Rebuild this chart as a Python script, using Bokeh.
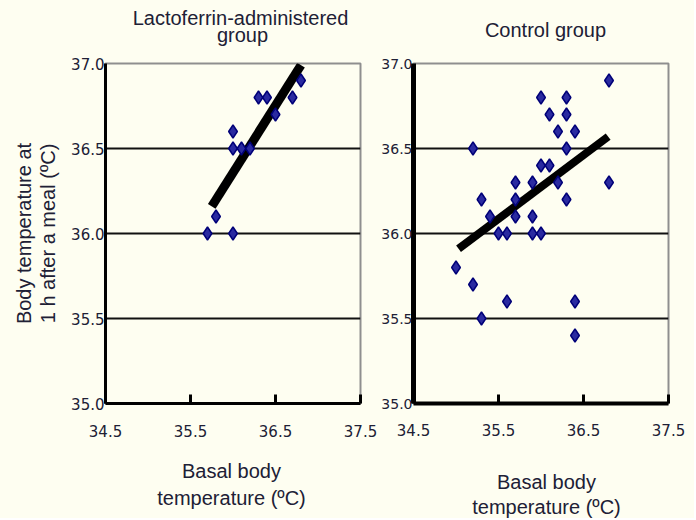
from bokeh.plotting import figure
from bokeh.layouts import row, column
from bokeh.models import Range1d, FixedTicker, PrintfTickFormatter
from bokeh.core.properties import value
from bokeh.embed import file_html
from bokeh.resources import INLINE

# ---- data ----
lf_x = [35.7, 36.0, 35.8, 36.0, 36.0, 36.1, 36.2, 36.3, 36.4, 36.5, 36.7, 36.8]
lf_y = [36.0, 36.0, 36.1, 36.5, 36.6, 36.5, 36.5, 36.8, 36.8, 36.7, 36.8, 36.9]
lf_fit_x = [35.75, 36.80]
lf_fit_y = [36.16, 36.99]

ct_x = [36.8, 36.0, 36.3, 36.1, 36.3, 36.2, 36.4, 35.2, 36.3, 36.0, 36.1, 36.8,
        35.7, 35.9, 36.2, 35.3, 35.7, 36.3, 35.4, 35.7, 35.9, 35.5, 35.6, 35.9,
        36.0, 35.0, 35.2, 35.6, 35.3, 36.4, 36.4]
ct_y = [36.9, 36.8, 36.8, 36.7, 36.7, 36.6, 36.6, 36.5, 36.5, 36.4, 36.4, 36.3,
        36.3, 36.3, 36.3, 36.2, 36.2, 36.2, 36.1, 36.1, 36.1, 36.0, 36.0, 36.0,
        36.0, 35.8, 35.7, 35.6, 35.5, 35.6, 35.4]
ct_fit_x = [35.03, 36.79]
ct_fit_y = [35.91, 36.57]

x_ticks = [34.5, 35.5, 36.5, 37.5]
y_ticks = [35.0, 35.5, 36.0, 36.5, 37.0]
grid_ticks = [35.5, 36.0, 36.5]

titles = ["Lactoferrin-administered", "group", "Control group"]
x_label = ["Basal body", "temperature (\u00baC)"]
y_label = "Body temperature at\n1 h after a meal (\u00baC)"

BG = "#FEFEF1"
TXT = "#202035"
FONT = "Liberation Sans"
TICKFONT = "DejaVu Sans"
W = 694
TOP_H = 53
ROW_H = 397
BOT_H = 68


def strip(h):
    s = figure(width=W, height=h, output_backend="svg", toolbar_location=None,
               x_range=Range1d(0, W), y_range=Range1d(h, 0), min_border=0,
               background_fill_color=BG, border_fill_color=BG,
               outline_line_color=None)
    s.axis.visible = False
    s.grid.visible = False
    return s


def put_text(s, xs, ys, texts):
    s.text(x=xs, y=ys, text=texts, text_font=value(FONT), text_font_size="20px",
           text_align="center", text_baseline="middle", text_color=TXT)


def make_fig(width, mb_left, mb_right, mb_bottom, axis_w, xs, ys, fx, fy,
             tick_standoff, fit_w, ylab_size):
    p = figure(width=width, height=ROW_H, output_backend="svg", toolbar_location=None,
               x_range=Range1d(34.5, 37.5), y_range=Range1d(35.0, 37.0),
               min_border_left=mb_left, min_border_right=mb_right, min_border_top=10,
               min_border_bottom=mb_bottom, background_fill_color=BG,
               border_fill_color=BG, outline_line_color="#8f8f8f",
               outline_line_width=2)
    p.xgrid.visible = False
    p.ygrid.ticker = FixedTicker(ticks=grid_ticks)
    p.ygrid.grid_line_color = "#111111"
    p.ygrid.grid_line_width = 2

    p.xaxis.ticker = FixedTicker(ticks=x_ticks)
    p.yaxis.ticker = FixedTicker(ticks=y_ticks)
    p.xaxis.formatter = PrintfTickFormatter(format="%.1f")
    p.yaxis.formatter = PrintfTickFormatter(format="%.1f")
    for ax in (p.xaxis, p.yaxis):
        ax.axis_line_color = "black"
        ax.major_label_text_font = TICKFONT
        ax.major_label_text_font_size = "15px"
        ax.major_label_text_color = TXT
        ax.minor_tick_line_color = None
        ax.major_tick_line_color = "black"
        ax.axis_label_text_font = FONT
        ax.axis_label_text_font_style = "normal"
        ax.axis_label_text_color = TXT
        ax.axis_label_text_font_size = "20px"
    p.yaxis.major_label_text_font_size = ylab_size
    p.xaxis.axis_line_width = axis_w[1]
    p.yaxis.axis_line_width = axis_w[0]
    p.xaxis.major_tick_in = 9
    p.xaxis.major_tick_out = 0
    p.xaxis.major_tick_line_width = 3
    p.yaxis.major_tick_in = 0
    p.yaxis.major_tick_out = 0
    p.yaxis.major_label_standoff = 1
    p.xaxis.major_label_standoff = tick_standoff

    p.line(fx, fy, line_color="black", line_width=fit_w)
    p.scatter(xs, ys, marker="diamond", size=13, fill_color="#2a2aa0",
              line_color="#000078", line_width=1.5)
    return p


left = make_fig(378, 105, 18, 47, (3, 3), lf_x, lf_y, lf_fit_x, lf_fit_y, 21, 9,
                "15px")
left.yaxis.axis_label = y_label
left.yaxis.axis_label_text_line_height = 1.1
left.yaxis.axis_label_standoff = 9

right = make_fig(W - 378, 34, 26, 44, (5, 4), ct_x, ct_y, ct_fit_x, ct_fit_y,
                 20, 8, "14px")

top = strip(TOP_H)
put_text(top, [240, 242, 545], [17, 34, 29], titles)

bottom = strip(BOT_H)
put_text(bottom, [231, 231, 546, 546], [20, 47, 31, 56], x_label + x_label)

layout = column(top, row(left, right, spacing=0), bottom, spacing=0)
layout.styles = {"background-color": BG}

open("out.html", "w").write(file_html(layout, INLINE))
